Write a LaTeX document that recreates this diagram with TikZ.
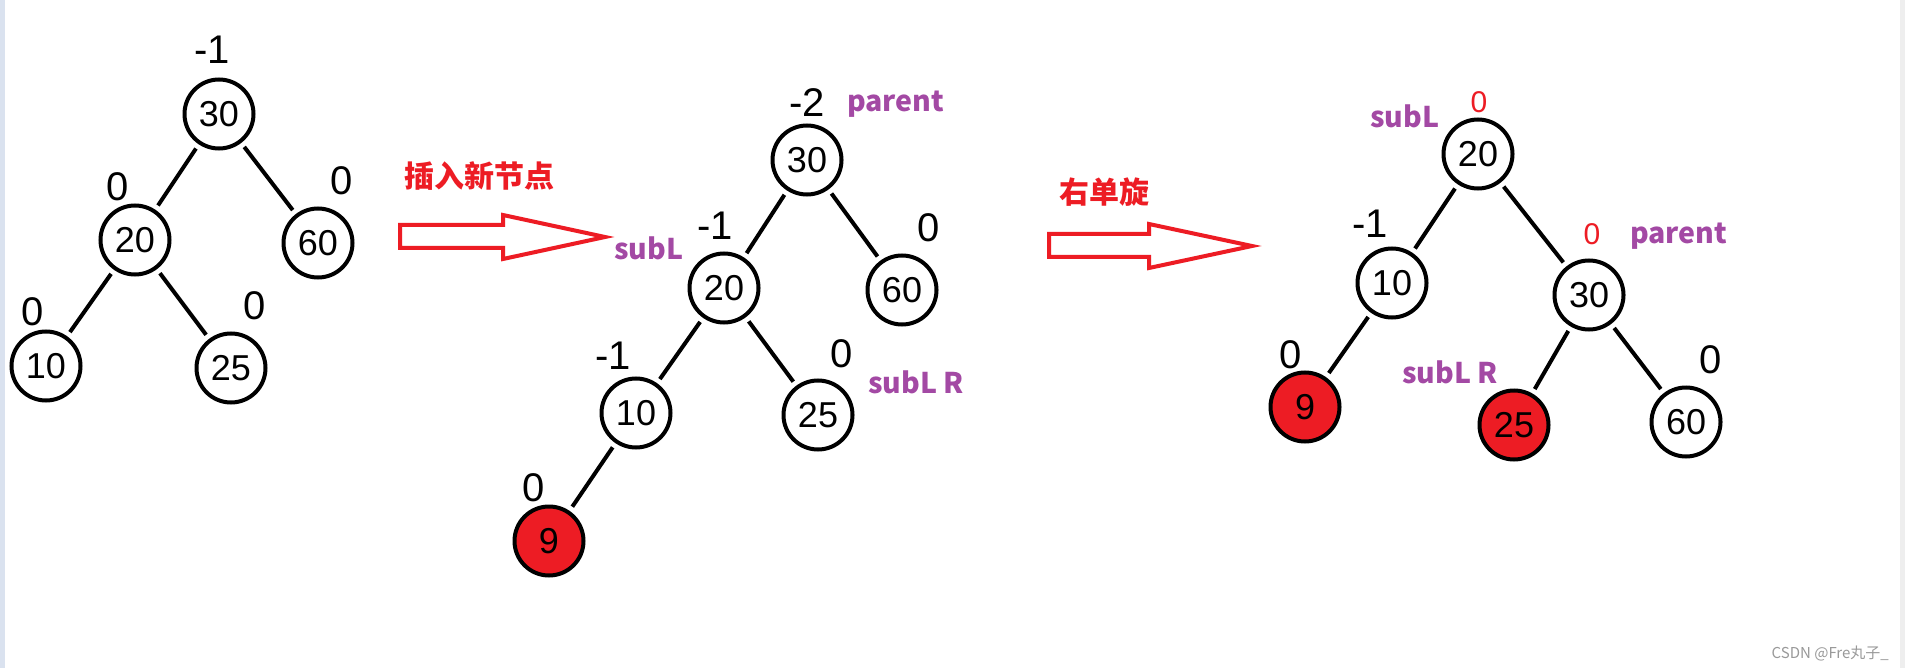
\documentclass[tikz,border=0pt]{standalone}
\usepackage{fontspec}
\setmainfont{Liberation Sans}
\newfontfamily\cjk{Noto Sans CJK SC}
\definecolor{pred}{HTML}{ED1C24}
\definecolor{ppurple}{HTML}{A349A4}
\definecolor{lstrip}{HTML}{DAE2EF}
\definecolor{rstrip}{HTML}{EEEEEE}
\definecolor{wmark}{HTML}{999999}
\begin{document}
\begin{tikzpicture}[x=1pt,y=-1pt,
  tnode/.style={circle,draw=black,line width=4pt,minimum size=69pt,inner sep=0pt,outer sep=0pt,fill=white,font=\fontsize{36}{36}\selectfont},
  rnode/.style={tnode,fill=pred},
  edge/.style={line width=4pt,shorten >=7pt,shorten <=7pt},
  bal/.style={inner sep=0pt,font=\fontsize{40}{40}\selectfont},
  rbal/.style={inner sep=0pt,text=pred,font=\fontsize{30}{30}\selectfont},
  tag/.style={inner sep=0pt,anchor=base west,text=ppurple,font=\cjk\bfseries\fontsize{28.5}{28.5}\selectfont},
  cjklabel/.style={inner sep=0pt,text=pred,font=\cjk\bfseries\fontsize{30}{30}\selectfont},
  bigarrow/.style={draw=pred,line width=4pt,fill=white,line join=miter},
  wm/.style={inner sep=0pt,anchor=base east,text=wmark,font=\cjk\fontsize{15}{15}\selectfont}
]
\useasboundingbox (0,0) rectangle (1905,668);
\fill[white] (0,0) rectangle (1905,668);
\fill[lstrip] (0,0) rectangle (5,668);
\fill[rstrip] (1900,0) rectangle (1905,668);

% ---------- tree 1 ----------
\node[tnode] (a30) at (219,114) {30};
\node[tnode] (a20) at (135,240) {20};
\node[tnode] (a60) at (318,243) {60};
\node[tnode] (a10) at (46,366) {10};
\node[tnode] (a25) at (231,368) {25};
\draw[edge] (a30) -- (a20);
\draw[edge] (a30) -- (a60);
\draw[edge] (a20) -- (a10);
\draw[edge] (a20) -- (a25);
\node[bal] (ba30) at (212,50) {-1};
\node[bal] (ba20) at (118,187) {0};
\node[bal] (ba60) at (342,181) {0};
\node[bal] (ba10) at (33,312) {0};
\node[bal] (ba25) at (255,306) {0};

% ---------- arrow 1 ----------
\node[cjklabel] (ins) at (479,176) {插入新节点};
\draw[bigarrow] (400,225) -- (503,225) -- (503,215) -- (605,237) -- (503,259) -- (503,248) -- (400,248) -- cycle;

% ---------- tree 2 ----------
\node[tnode] (b30) at (807,160) {30};
\node[tnode] (b20) at (724,288) {20};
\node[tnode] (b60) at (902,290) {60};
\node[tnode] (b10) at (636,413) {10};
\node[tnode] (b25) at (818,415) {25};
\node[rnode] (b9) at (549,541) {9};
\draw[edge] (b30) -- (b20);
\draw[edge] (b30) -- (b60);
\draw[edge] (b20) -- (b10);
\draw[edge] (b20) -- (b25);
\draw[edge] (b10) -- (b9);
\node[bal] (bb30) at (807,103) {-2};
\node[bal] (bb20) at (715,226) {-1};
\node[bal] (bb60) at (929,228) {0};
\node[bal] (bb10) at (613,356) {-1};
\node[bal] (bb25) at (842,354) {0};
\node[bal] (bb9) at (534,488) {0};
\node[tag] (tparent2) at (847,112) {parent};
\node[tag] (tsubl2) at (614,260) {subL};
\node[tag] (tsublr2) at (868,393) {subL R};

% ---------- arrow 2 ----------
\node[cjklabel] (rot) at (1104,192) {右单旋};
\draw[bigarrow] (1049,234) -- (1149,234) -- (1149,224) -- (1252,246) -- (1149,268) -- (1149,257) -- (1049,257) -- cycle;

% ---------- tree 3 ----------
\node[tnode] (c20) at (1478,154) {20};
\node[tnode] (c10) at (1392,283) {10};
\node[tnode] (c30) at (1589,295) {30};
\node[rnode] (c9) at (1305,407) {9};
\node[rnode] (c25) at (1514,425) {25};
\node[tnode] (c60) at (1686,422) {60};
\draw[edge] (c20) -- (c10);
\draw[edge] (c20) -- (c30);
\draw[edge] (c10) -- (c9);
\draw[edge] (c30) -- (c25);
\draw[edge] (c30) -- (c60);
\node[rbal] (bc20) at (1479,102) {0};
\node[bal] (bc10) at (1370,224) {-1};
\node[rbal] (bc30) at (1592,234) {0};
\node[bal] (bc9) at (1291,355) {0};
\node[bal] (bc60) at (1711,360) {0};
\node[tag] (tsubl3) at (1370,128) {subL};
\node[tag] (tparent3) at (1630,244) {parent};
\node[tag] (tsublr3) at (1402,383) {subL R};

% ---------- watermark ----------
\node[wm] (mark) at (1889,658) {CSDN @Fre丸子\_};
\end{tikzpicture}
\end{document}
